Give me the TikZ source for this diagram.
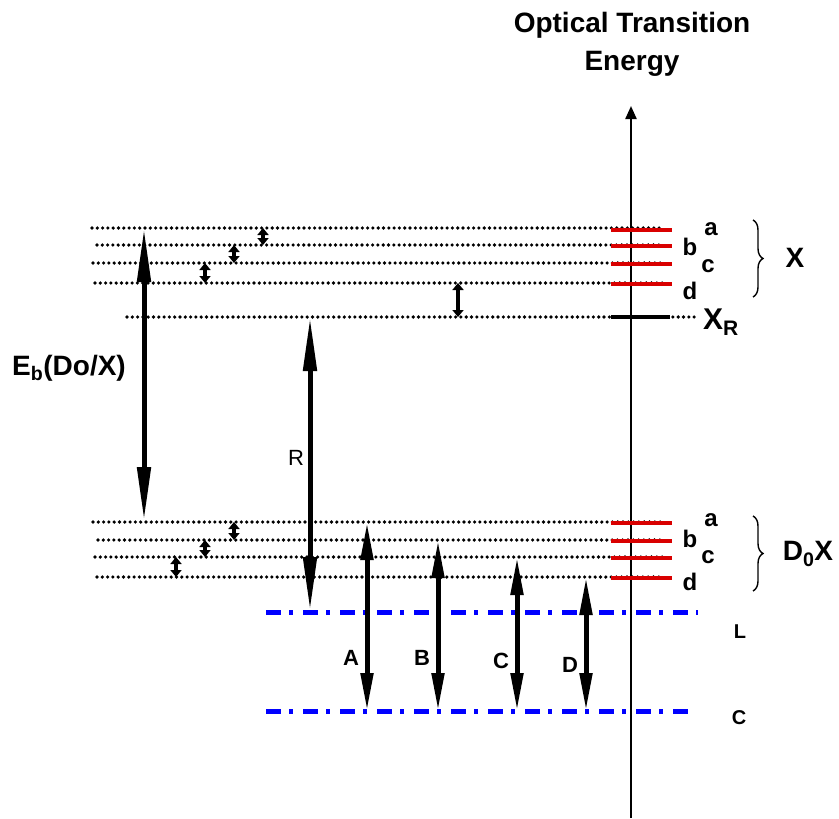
\documentclass[tikz,border=0pt]{standalone}
\usepackage{fontspec}
\setmainfont{Liberation Sans}
\usetikzlibrary{arrows.meta,decorations.pathreplacing}

\begin{document}
\begin{tikzpicture}[x=1pt,y=-1pt,
	lvl/.style={line width=3.6pt,dash pattern=on 0pt off 5.3pt,line cap=round},
	redlvl/.style={line width=3.4pt,red!85!black},
	bluelvl/.style={line width=5pt,blue,dash pattern=on 15pt off 8pt on 4pt off 10pt},
	bigarr/.style={line width=5pt,{Triangle[length=54pt,width=13pt]}-{Triangle[length=54pt,width=13pt]}},
	midarr/.style={line width=5pt,{Triangle[length=38pt,width=12pt]}-{Triangle[length=38pt,width=12pt]}},
	smallarr/.style={line width=4.5pt,{Triangle[length=7pt,width=11pt]}-{Triangle[length=7pt,width=11pt]}},
	lab/.style={font=\bfseries\fontsize{24}{26}\selectfont},
	sublab/.style={font=\bfseries\fontsize{22}{24}\selectfont}]
	\useasboundingbox (0,0) rectangle (839,819);
	% axis
	\draw[line width=2.2pt,-{Triangle[length=13pt,width=11pt]}] (631,818) -- (631,106) coordinate (top);
	\node[align=center,font=\bfseries\fontsize{28}{38}\selectfont] (title) at (632,44) {Optical Transition\\Energy};
	% X levels
	\foreach \y/\s/\e in {228/92/663,245/97/663,263/93/663,283/95/663,317/127/697}{
		\draw[lvl] (\s,\y) -- (\e,\y);
	}
	\foreach \y in {230,246,264,284}{ \draw[redlvl] (611,\y) -- (672,\y); }
	\draw[line width=3.6pt] (611,317) -- (670,317);
	% D0X levels
	\foreach \y/\s in {522/93,540/98,557/95,577/97}{
		\draw[lvl] (\s,\y) -- (663,\y);
		\draw[redlvl] (611,\y+1) -- (672,\y+1);
	}
	% level labels
	\foreach \n/\x/\y in {a/711/229,b/690/247,c/708/266,d/690/291}{
		\node[lab] (x\n) at (\x,\y) {\n};
	}
	\foreach \n/\x/\y in {a/711/520,b/690/539,c/708/557,d/690/582}{
		\node[lab] (d\n) at (\x,\y) {\n};
	}
	\node[font=\bfseries\fontsize{30}{32}\selectfont] (xr) at (721,322) {X\textsubscript{R}};
	\draw[line width=1.4pt,decorate,decoration={brace,amplitude=10pt}] (753,220) -- (753,297);
	\node[font=\bfseries\fontsize{28}{30}\selectfont] (xlab) at (795,258) {X};
	\draw[line width=1.4pt,decorate,decoration={brace,amplitude=10pt}] (753,516) -- (753,591);
	\node[font=\bfseries\fontsize{28}{30}\selectfont] (d0x) at (808,554) {D\textsubscript{0}X};
	% L and C
	\draw[bluelvl] (266,612) -- (698,612);
	\draw[bluelvl] (266,711) -- (693,711);
	\node[font=\bfseries\fontsize{20}{22}\selectfont] (llab) at (740,632) {L};
	\node[font=\bfseries\fontsize{20}{22}\selectfont] (clab) at (739,718) {C};
	% small spacings
	\foreach \x/\a/\b in {263/228/245,234/245/263,205/263/283,458/283/317,234/522/540,205/540/557,176/557/577}{
		\draw[smallarr] (\x,\a) -- (\x,\b);
	}
	% binding energy and R
	\draw[bigarr] (144,228) -- (144,521);
	\node[font=\bfseries\fontsize{28}{30}\selectfont] (eb) at (69,368) {E\textsubscript{b}(Do/X)};
	\draw[bigarr] (310,317) -- (310,611);
	\node[font=\fontsize{22}{24}\selectfont] (rlab) at (296,458) {R};
	% transitions
	\foreach \x/\t/\l/\ly in {367/522/A/658,438/540/B/658,517/557/C/661,586/577/D/665}{
		\draw[midarr] (\x,\t) -- (\x,711);
		\node[sublab] (t\l) at (\x-16,\ly) {\l};
	}
\end{tikzpicture}
\end{document}
